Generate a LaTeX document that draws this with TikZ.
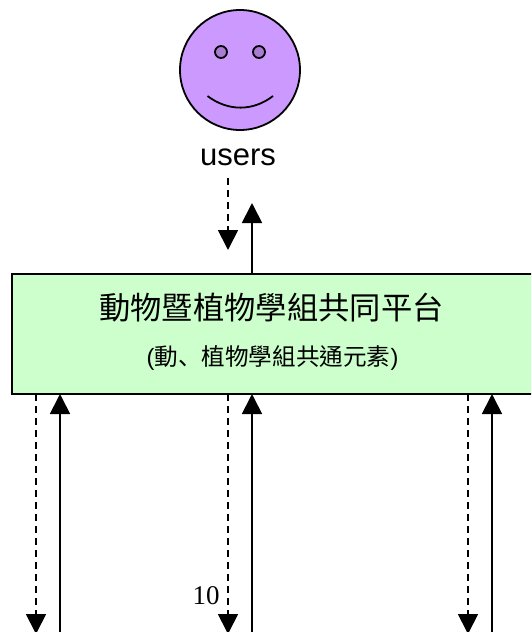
\documentclass[tikz,border=0pt]{standalone}
\usepackage{fontspec}
\setmainfont{Liberation Sans}
\newfontfamily\cjk{Noto Sans CJK TC}
\newfontfamily\cjkmark{Noto Sans CJK SC}
\newfontfamily\serifnum{Liberation Serif}
\usetikzlibrary{arrows.meta}
\definecolor{facefill}{RGB}{204,153,255}
\definecolor{eyefill}{RGB}{170,125,210}
\definecolor{boxfill}{RGB}{204,255,204}
\tikzstyle{face} = [circle, minimum size=120pt, inner sep=0pt, draw=black, line width=1.8pt, fill=facefill]
\tikzstyle{eye} = [circle, minimum size=12pt, inner sep=0pt, draw=black, line width=1.8pt, fill=eyefill]
\tikzstyle{platform} = [rectangle, minimum width=530pt, minimum height=120pt, align=center, draw=black, line width=1.8pt, fill=boxfill]
\tikzstyle{arrow} = [line width=1.8pt, -{Triangle[length=20pt,width=20pt]}]
\tikzstyle{dasharrow} = [arrow, dash pattern=on 7pt off 5pt]
\begin{document}
\begin{tikzpicture}[x=1pt, y=-1pt]
  \useasboundingbox (0,0) rectangle (531,632);
  \clip (0,0) rectangle (531,632);

  \node(smiley)[face] at (240,70) {};
  \node(lefteye)[eye] at (221,52) {};
  \node(righteye)[eye] at (259,52) {};
  \coordinate(smileL) at (207.5,96);
  \coordinate(smileR) at (273,96);
  \draw[line width=1.8pt] (smileL) .. controls (228,111.5) and (253,111.5) .. (smileR);
  \node(users) at (238,157) {\fontsize{31}{31}\selectfont users};

  \node(box)[platform] at (277,334) {};
  \node(title) at (271.5,308) {\fontsize{31.3}{31.3}\cjk 動物暨植物學組共同平台};
  \node(subtitle) at (272.5,358) {\fontsize{23.6}{23.6}\selectfont (\cjk 動{\cjkmark 、}植物學組共通元素\rmfamily)};

  % to and from the users
  \coordinate(userdown) at (228,178);
  \coordinate(userdowntip) at (228,250);
  \coordinate(userup) at (252,274);
  \coordinate(useruptip) at (252,203);
  \draw[dasharrow] (userdown) -- (userdowntip);
  \draw[arrow] (userup) -- (useruptip);

  % the three pairs below the box
  \foreach \name/\xdash/\xsolid in {a/36/60, b/228/252, c/468/492} {
    \coordinate(\name start) at (\xdash,394);
    \coordinate(\name tip) at (\xdash,634);
    \coordinate(\name low) at (\xsolid,640);
    \coordinate(\name top) at (\xsolid,394);
    \draw[dasharrow] (\name start) -- (\name tip);
    \draw[arrow] (\name low) -- (\name top);
  }

  \node(pagenum) at (206,596) {\fontsize{27}{27}\serifnum 10};
\end{tikzpicture}
\end{document}
